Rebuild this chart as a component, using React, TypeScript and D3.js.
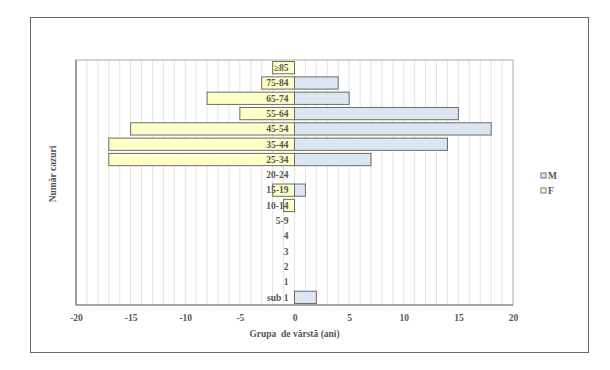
import React, { useEffect, useRef } from "react";
import * as d3 from "d3";

const groups = ["≥85", "75-84", "65-74", "55-64", "45-54", "35-44", "25-34", "20-24", "15-19", "10-14", "5-9", "4", "3", "2", "1", "sub 1"];
const male = [0, 4, 5, 15, 18, 14, 7, 0, 1, 0, 0, 0, 0, 0, 0, 2];
const female = [-2, -3, -8, -5, -15, -17, -17, 0, -2, -1, 0, 0, 0, 0, 0, 0];
const xTicks = [-20, -15, -10, -5, 0, 5, 10, 15, 20];

const font = "'Liberation Serif', 'Times New Roman', serif";
const textColor = "#555";

function App() {
  const svgRef = useRef<SVGSVGElement>(null);

  useEffect(() => {
    const svg = d3.select(svgRef.current);
    svg.selectAll("*").remove();

    const left = 76, right = 513, top = 60, bottom = 305;

    const x = d3.scaleLinear().domain([-20, 20]).range([left, right]);
    const y = d3.scaleBand().domain(groups).range([top, bottom]).paddingInner(0.2).paddingOuter(0.1);

    // outer frame
    svg.append("rect")
      .attr("x", 30.5).attr("y", 17.5).attr("width", 558).attr("height", 335)
      .attr("fill", "white").attr("stroke", "#666").attr("stroke-width", 1);

    // minor gridlines
    svg.append("g")
      .selectAll("line")
      .data(d3.range(-19, 20))
      .join("line")
      .attr("x1", d => x(d)).attr("x2", d => x(d))
      .attr("y1", top).attr("y2", bottom)
      .attr("stroke", "#e4e4e4").attr("stroke-width", 1);

    // plot border
    svg.append("rect")
      .attr("x", left).attr("y", top).attr("width", right - left).attr("height", bottom - top)
      .attr("fill", "none").attr("stroke", "#aaa").attr("stroke-width", 1);
    svg.append("line")
      .attr("x1", left).attr("x2", right).attr("y1", bottom).attr("y2", bottom)
      .attr("stroke", "#777").attr("stroke-width", 1.2);
    svg.append("line")
      .attr("x1", left).attr("x2", left).attr("y1", top).attr("y2", bottom)
      .attr("stroke", "#777").attr("stroke-width", 1.2);

    const bars = svg.append("g");
    bars.selectAll(".m")
      .data(male.map((v, i) => ({ v, g: groups[i] })).filter(d => d.v !== 0))
      .join("rect")
      .attr("class", "m")
      .attr("x", x(0)).attr("y", d => y(d.g)!)
      .attr("width", d => x(d.v) - x(0)).attr("height", y.bandwidth())
      .attr("fill", "#dce6f2").attr("stroke", "#6b6b6b").attr("stroke-width", 1);

    bars.selectAll(".f")
      .data(female.map((v, i) => ({ v, g: groups[i] })).filter(d => d.v !== 0))
      .join("rect")
      .attr("class", "f")
      .attr("x", d => x(d.v)).attr("y", d => y(d.g)!)
      .attr("width", d => x(0) - x(d.v)).attr("height", y.bandwidth())
      .attr("fill", "#ffffc8").attr("stroke", "#6b6b6b").attr("stroke-width", 1);

    // category labels over bars
    svg.append("g")
      .selectAll("text")
      .data(groups)
      .join("text")
      .attr("x", x(0) - 6)
      .attr("y", d => y(d)! + y.bandwidth() / 2)
      .attr("dy", "0.35em")
      .attr("text-anchor", "end")
      .attr("font-family", font).attr("font-size", 9.5).attr("font-weight", "bold")
      .attr("fill", textColor)
      .text(d => d);

    // x axis
    const xAxis = d3.axisBottom(x).tickValues(xTicks).tickFormat(d => String(d)).tickSize(0).tickPadding(9);
    const gx = svg.append("g").attr("transform", `translate(0,${bottom})`).call(xAxis);
    gx.select(".domain").remove();
    gx.selectAll("text")
      .attr("font-family", font).attr("font-size", 9.5).attr("font-weight", "bold")
      .attr("fill", textColor);

    svg.append("text")
      .attr("x", x(0)).attr("y", 337)
      .attr("text-anchor", "middle")
      .attr("font-family", font).attr("font-size", 9.5).attr("font-weight", "bold")
      .attr("fill", textColor)
      .attr("xml:space", "preserve")
      .text("Grupa  de vârstă (ani)");

    svg.append("text")
      .attr("transform", "translate(56,174) rotate(-90)")
      .attr("text-anchor", "middle")
      .attr("font-family", font).attr("font-size", 9.5).attr("font-weight", "bold")
      .attr("fill", textColor)
      .text("Număr cazuri");

    // legend
    const legend = [{ name: "M", color: "#dce6f2" }, { name: "F", color: "#ffffc8" }];
    const lg = svg.append("g").attr("transform", "translate(541,173)");
    const item = lg.selectAll("g").data(legend).join("g")
      .attr("transform", (d, i) => `translate(0,${i * 15})`);
    item.append("rect")
      .attr("x", 0).attr("y", 0).attr("width", 5).attr("height", 5)
      .attr("fill", d => d.color).attr("stroke", "#777").attr("stroke-width", 1);
    item.append("text")
      .attr("x", 7).attr("y", 3).attr("dy", "0.35em")
      .attr("font-family", font).attr("font-size", 9.5).attr("font-weight", "bold")
      .attr("fill", textColor)
      .text(d => d.name);
  }, []);

  return (
    <svg ref={svgRef} width={610} height={370} style={{ position: "absolute", left: 0, top: 0, background: "white" }} />
  );
}

export default App;
